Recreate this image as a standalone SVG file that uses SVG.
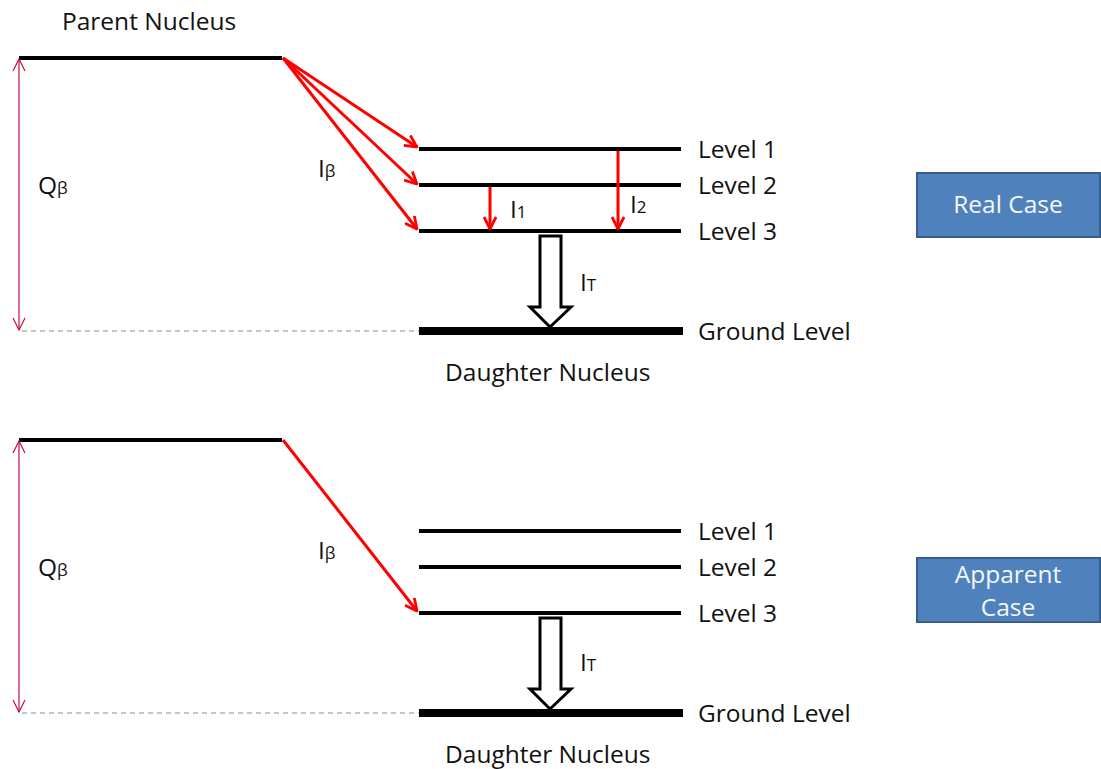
<svg xmlns="http://www.w3.org/2000/svg" width="1101" height="769" viewBox="0 0 1101 769">
  <style>
    text { font-family: "Open Sans", "Liberation Sans", sans-serif; font-size: 24.5px; fill: #111; }
    .sub { font-size: 17px; }
    .lvl { stroke: #000; stroke-width: 4; }
    .gnd { stroke: #000; stroke-width: 8; }
    .beta { stroke: #ff0000; stroke-width: 3; fill: none; marker-end: url(#redHead); }
    .q { stroke: #c8103c; stroke-width: 1.2; fill: none; marker-start: url(#qHead); marker-end: url(#qHead); }
    .dash { stroke: #8c8c8c; stroke-width: 1.2; stroke-dasharray: 5 4; }
    .hollow { fill: #fff; stroke: #000; stroke-width: 3; stroke-linejoin: miter; }
    .box { fill: #4f81bd; stroke: #385d8a; stroke-width: 2; }
    .boxtxt { fill: #f4f7fb; text-anchor: middle; }
  </style>
  <defs>
    <marker id="redHead" viewBox="0 0 14 14" refX="13" refY="7" markerWidth="14" markerHeight="14" markerUnits="userSpaceOnUse" orient="auto">
      <path d="M1,1 L13,7 L1,13" fill="none" stroke="#ff0000" stroke-width="2.8"/>
    </marker>
    <marker id="qHead" viewBox="0 0 14 14" refX="13" refY="7" markerWidth="14" markerHeight="14" markerUnits="userSpaceOnUse" orient="auto-start-reverse">
      <path d="M1,1 L13,7 L1,13" fill="none" stroke="#c8103c" stroke-width="1.2"/>
    </marker>
  </defs>

  <!-- Real case -->
  <g id="real-parent">
    <line class="lvl" x1="19" y1="58" x2="282" y2="58"/>
    <text x="62" y="30">Parent Nucleus</text>
  </g>
  <g id="real-levels">
    <line class="lvl" x1="419" y1="149" x2="681" y2="149"/>
    <line class="lvl" x1="419" y1="185" x2="681" y2="185"/>
    <line class="lvl" x1="419" y1="231" x2="681" y2="231"/>
    <line class="gnd" x1="419" y1="331" x2="683" y2="331"/>
    <text x="698" y="158">Level 1</text>
    <text x="698" y="194">Level 2</text>
    <text x="698" y="240">Level 3</text>
    <text x="698" y="340">Ground Level</text>
    <text x="445" y="381">Daughter Nucleus</text>
  </g>
  <g id="real-labels">
    <text x="38" y="194">Q<tspan class="sub">β</tspan></text>
    <text x="318" y="177">I<tspan class="sub">β</tspan></text>
    <text x="510" y="218">I<tspan class="sub">1</tspan></text>
    <text x="630" y="213">I<tspan class="sub">2</tspan></text>
    <text x="580" y="291">I<tspan class="sub">T</tspan></text>
  </g>
  <g id="real-case">
    <rect class="box" x="917" y="173" width="183" height="64"/>
    <text class="boxtxt" x="1008" y="213">Real Case</text>
  </g>

  <!-- Apparent case -->
  <g id="apparent-parent">
    <line class="lvl" x1="19" y1="440" x2="282" y2="440"/>
  </g>
  <g id="apparent-levels">
    <line class="lvl" x1="419" y1="531" x2="681" y2="531"/>
    <line class="lvl" x1="419" y1="567" x2="681" y2="567"/>
    <line class="lvl" x1="419" y1="613" x2="681" y2="613"/>
    <line class="gnd" x1="419" y1="713" x2="683" y2="713"/>
    <text x="698" y="540">Level 1</text>
    <text x="698" y="576">Level 2</text>
    <text x="698" y="622">Level 3</text>
    <text x="698" y="722">Ground Level</text>
    <text x="445" y="763">Daughter Nucleus</text>
  </g>
  <g id="apparent-labels">
    <text x="38" y="576">Q<tspan class="sub">β</tspan></text>
    <text x="318" y="559">I<tspan class="sub">β</tspan></text>
    <text x="580" y="671">I<tspan class="sub">T</tspan></text>
  </g>
  <g id="apparent-case">
    <rect class="box" x="917" y="558" width="183" height="64"/>
    <text class="boxtxt" x="1008" y="583">Apparent</text>
    <text class="boxtxt" x="1008" y="616">Case</text>
  </g>

  <!-- Connectors -->
  <g id="connectors">
    <line class="q" x1="19" y1="59" x2="19" y2="330"/>
    <line class="dash" x1="22" y1="331" x2="419" y2="331"/>
    <line class="beta" x1="283" y1="58" x2="417" y2="147"/>
    <line class="beta" x1="283" y1="58" x2="417" y2="184"/>
    <line class="beta" x1="283" y1="58" x2="417" y2="229"/>
    <line class="beta" x1="490" y1="187" x2="490" y2="229"/>
    <line class="beta" x1="618" y1="151" x2="618" y2="229"/>
    <path class="hollow" d="M540,236 H561 V307 H571 L550,327 L530,307 H540 Z"/>

    <line class="q" x1="19" y1="441" x2="19" y2="712"/>
    <line class="dash" x1="22" y1="713" x2="419" y2="713"/>
    <line class="beta" x1="283" y1="440" x2="417" y2="611"/>
    <path class="hollow" d="M540,618 H561 V689 H571 L550,709 L530,689 H540 Z"/>
  </g>
</svg>
